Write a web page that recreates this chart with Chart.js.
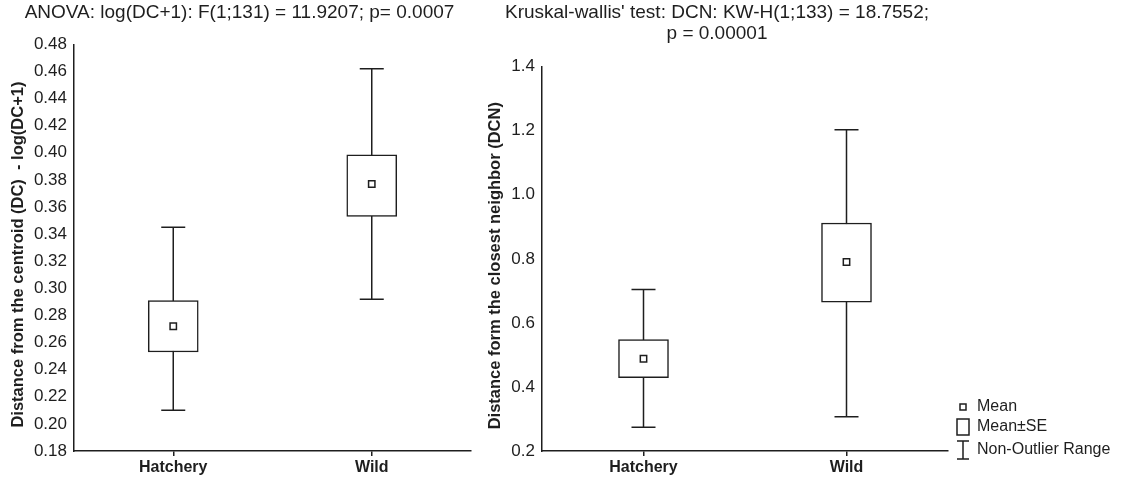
<!DOCTYPE html>
<html>
<head>
<meta charset="utf-8">
<script src="https://cdn.jsdelivr.net/npm/chart.js@4.4.1/dist/chart.umd.min.js"></script>
<style>
  body { margin: 0; background: #fff; }
  #wrap { position: relative; width: 1123px; height: 478px; }
  #c1 { position: absolute; left: 0; top: 0; }
  #c2 { position: absolute; left: 480px; top: 0; }
</style>
</head>
<body>
<div id="wrap">
  <canvas id="c1" width="480" height="478"></canvas>
  <canvas id="c2" width="643" height="478"></canvas>
</div>
<script>
// groups
var groups = ["Hatchery", "Wild"];

// left panel: log(DC+1)
var dcMean  = [0.272, 0.377];
var dcSeLo  = [0.253, 0.353];
var dcSeHi  = [0.291, 0.3985];
var dcMin   = [0.210, 0.292];
var dcMax   = [0.345, 0.462];

// right panel: DCN
var dcnMean = [0.488, 0.790];
var dcnSeLo = [0.429, 0.665];
var dcnSeHi = [0.548, 0.912];
var dcnMin  = [0.274, 0.307];
var dcnMax  = [0.704, 1.203];

var FONT = "'Liberation Sans', Arial, sans-serif";
var INK = '#1e1e1e';

Chart.defaults.font.family = FONT;
Chart.defaults.color = INK;

// non-outlier range whiskers, drawn under the SE boxes
var whiskerPlugin = {
  id: 'whiskers',
  beforeDatasetsDraw: function(chart, args, opts) {
    var xs = chart.scales.x, ys = chart.scales.y, ctx = chart.ctx;
    ctx.save();
    ctx.strokeStyle = INK;
    ctx.lineWidth = 1.5;
    for (var i = 0; i < opts.lo.length; i++) {
      var x = xs.getPixelForValue(i);
      var y1 = ys.getPixelForValue(opts.lo[i]);
      var y2 = ys.getPixelForValue(opts.hi[i]);
      ctx.beginPath();
      ctx.moveTo(x, y1); ctx.lineTo(x, y2);
      ctx.moveTo(x - opts.cap, y1); ctx.lineTo(x + opts.cap, y1);
      ctx.moveTo(x - opts.cap, y2); ctx.lineTo(x + opts.cap, y2);
      ctx.stroke();
    }
    ctx.restore();
  }
};

// legend in the right margin
var boxLegend = {
  id: 'boxLegend',
  afterDraw: function(chart, args, opts) {
    if (!opts.show) return;
    var ctx = chart.ctx, a = chart.chartArea;
    var cx = a.right + 15, tx = a.right + 29;
    var r1 = a.bottom - 44, r2 = a.bottom - 24, r3 = a.bottom - 1;
    ctx.save();
    ctx.strokeStyle = INK;
    ctx.fillStyle = '#fff';
    ctx.lineWidth = 1.5;
    ctx.fillRect(cx - 3, r1 - 3, 6, 6);
    ctx.strokeRect(cx - 3, r1 - 3, 6, 6);
    ctx.strokeRect(cx - 6, r2 - 8, 12, 16);
    ctx.beginPath();
    ctx.moveTo(cx, r3 - 9); ctx.lineTo(cx, r3 + 9);
    ctx.moveTo(cx - 6, r3 - 9); ctx.lineTo(cx + 6, r3 - 9);
    ctx.moveTo(cx - 6, r3 + 9); ctx.lineTo(cx + 6, r3 + 9);
    ctx.stroke();
    ctx.fillStyle = INK;
    ctx.font = '16px ' + FONT;
    ctx.textBaseline = 'middle';
    ctx.fillText('Mean', tx, r1);
    ctx.fillText('Mean\u00b1SE', tx, r2);
    ctx.fillText('Non-Outlier Range', tx, r3);
    ctx.restore();
  }
};

function makeChart(id, cfg) {
  return new Chart(document.getElementById(id), {
    type: 'bar',
    data: {
      labels: groups,
      datasets: [{
        type: 'line',
        data: cfg.mean,
        showLine: false,
        pointStyle: 'rect',
        pointRadius: 4.5,
        pointBackgroundColor: '#fff',
        pointBorderColor: INK,
        pointBorderWidth: 1.5,
        order: 0
      }, {
        data: cfg.lo.map(function(v, i) { return [v, cfg.hi[i]]; }),
        backgroundColor: '#fff',
        borderColor: INK,
        borderWidth: 1.5,
        borderSkipped: false,
        barThickness: 50,
        order: 1
      }]
    },
    options: {
      responsive: false,
      animation: false,
      devicePixelRatio: 1,
      layout: { padding: cfg.pad },
      plugins: {
        legend: { display: false },
        tooltip: { enabled: false },
        title: {
          display: true,
          text: cfg.title,
          font: { size: 19, weight: 'normal', lineHeight: 1.07 },
          color: INK,
          padding: cfg.titlePad
        },
        whiskers: { lo: cfg.min, hi: cfg.max, cap: 12 },
        boxLegend: { show: cfg.legend }
      },
      scales: {
        x: {
          offset: true,
          grid: { display: true, offset: false, drawOnChartArea: false, tickLength: 5, color: INK, lineWidth: 1.5 },
          border: { display: true, color: INK, width: 1.5 },
          ticks: { font: { size: 16, weight: 'bold' }, color: INK, padding: 2 },
          afterFit: function(s) { s.height = 27; }
        },
        y: {
          min: cfg.yMin,
          max: cfg.yMax,
          grid: { display: false, drawTicks: false, tickLength: 0 },
          border: { display: true, color: INK, width: 1.5 },
          ticks: {
            stepSize: cfg.step,
            font: { size: 17 },
            color: INK,
            padding: 7,
            callback: function(v) { return v.toFixed(cfg.dec); }
          },
          title: {
            display: true,
            text: cfg.yTitle,
            font: { size: 16.5, weight: 'bold' },
            color: INK,
            padding: { top: cfg.yTitlePad, bottom: 0 }
          },
          afterFit: function(s) { s.width = cfg.yWidth; }
        }
      }
    },
    plugins: [whiskerPlugin, boxLegend]
  });
}

makeChart('c1', {
  mean: dcMean, lo: dcSeLo, hi: dcSeHi, min: dcMin, max: dcMax,
  title: 'ANOVA: log(DC+1): F(1;131) = 11.9207; p= 0.0007',
  titlePad: { top: 3, bottom: 21 },
  yTitle: 'Distance from the centroid (DC)  - log(DC+1)\u00a0\u00a0\u00a0',
  yTitlePad: 1, yWidth: 66,
  yMin: 0.18, yMax: 0.48, step: 0.02, dec: 2,
  pad: { left: 8, right: 9, top: 0, bottom: 0 },
  legend: false
});

makeChart('c2', {
  mean: dcnMean, lo: dcnSeLo, hi: dcnSeHi, min: dcnMin, max: dcnMax,
  title: ["Kruskal-wallis' test: DCN: KW-H(1;133) = 18.7552;", 'p = 0.00001'],
  titlePad: { top: 3, bottom: 23 },
  yTitle: 'Distance form the closest neighbor (DCN)\u00a0\u00a0\u00a0',
  yTitlePad: 0, yWidth: 56,
  yMin: 0.2, yMax: 1.4, step: 0.2, dec: 1,
  pad: { left: 6, right: 175, top: 0, bottom: 0 },
  legend: true
});
</script>
</body>
</html>
